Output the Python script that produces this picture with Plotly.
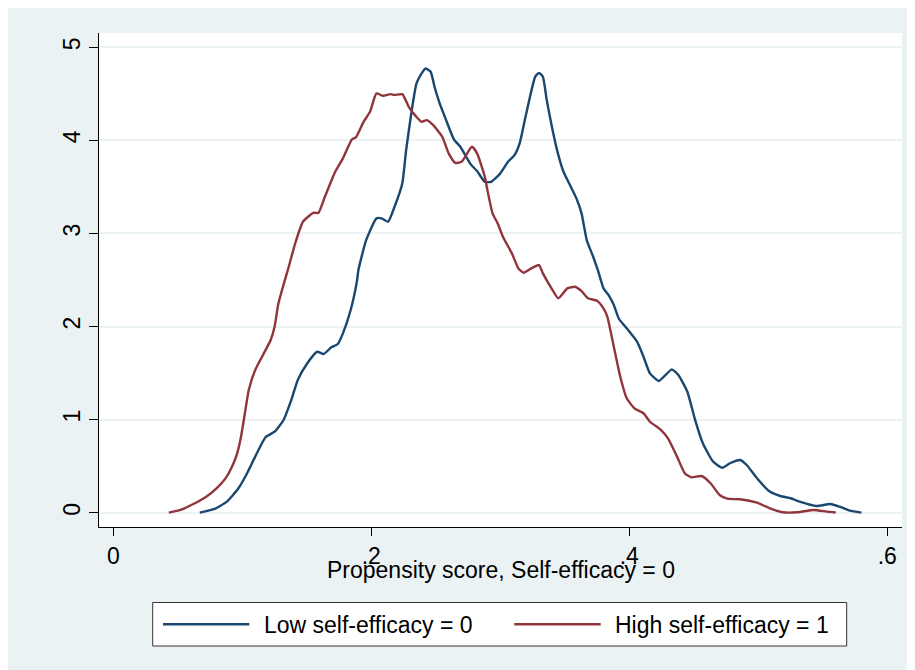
import plotly.graph_objects as go

# ---- data ----
series_names = ["Low self-efficacy = 0", "High self-efficacy = 1"]
x_title = "Propensity score, Self-efficacy = 0"
x_ticks = [0, 0.2, 0.4, 0.6]
x_tick_labels = ["0", ".2", ".4", ".6"]
y_ticks = [0, 1, 2, 3, 4, 5]
y_tick_labels = ["0", "1", "2", "3", "4", "5"]

low_x = [0.067, 0.078, 0.088, 0.097, 0.103, 0.110, 0.118, 0.125, 0.132, 0.138,
         0.143, 0.150, 0.158, 0.163, 0.169, 0.174, 0.178, 0.184, 0.189, 0.190,
         0.196, 0.204, 0.208, 0.213, 0.218, 0.224, 0.227, 0.231, 0.235, 0.239,
         0.242, 0.246, 0.249, 0.253, 0.258, 0.264, 0.269, 0.277, 0.282, 0.288,
         0.293, 0.300, 0.306, 0.311, 0.315, 0.319, 0.323, 0.327, 0.330, 0.333,
         0.336, 0.340, 0.344, 0.349, 0.354, 0.359, 0.363, 0.367, 0.372, 0.376,
         0.380, 0.384, 0.388, 0.392, 0.397, 0.406, 0.411, 0.416, 0.423, 0.428,
         0.433, 0.438, 0.445, 0.451, 0.457, 0.465, 0.472, 0.478, 0.486, 0.491,
         0.499, 0.508, 0.517, 0.525, 0.532, 0.545, 0.556, 0.563, 0.571, 0.580]
low_y = [0.000, 0.037, 0.118, 0.262, 0.405, 0.602, 0.810, 0.870, 0.996, 1.211,
         1.425, 1.597, 1.729, 1.705, 1.777, 1.812, 1.927, 2.177, 2.499, 2.607,
         2.929, 3.162, 3.162, 3.126, 3.287, 3.538, 3.896, 4.290, 4.612, 4.720,
         4.773, 4.737, 4.576, 4.397, 4.218, 4.011, 3.931, 3.745, 3.670, 3.555,
         3.555, 3.646, 3.770, 3.842, 3.968, 4.218, 4.468, 4.683, 4.726, 4.683,
         4.433, 4.146, 3.896, 3.663, 3.520, 3.377, 3.216, 2.929, 2.750, 2.589,
         2.410, 2.338, 2.231, 2.081, 1.998, 1.837, 1.676, 1.497, 1.415, 1.479,
         1.540, 1.479, 1.300, 0.996, 0.745, 0.548, 0.483, 0.531, 0.566, 0.512,
         0.369, 0.236, 0.179, 0.155, 0.118, 0.072, 0.093, 0.064, 0.021, 0.000]

high_x = [0.043, 0.052, 0.062, 0.072, 0.080, 0.087, 0.092, 0.096, 0.099, 0.102,
          0.105, 0.110, 0.116, 0.122, 0.125, 0.128, 0.133, 0.136, 0.141, 0.147,
          0.155, 0.159, 0.164, 0.172, 0.178, 0.185, 0.188, 0.194, 0.199, 0.204,
          0.209, 0.215, 0.218, 0.224, 0.229, 0.235, 0.239, 0.243, 0.248, 0.255,
          0.260, 0.265, 0.270, 0.278, 0.282, 0.288, 0.290, 0.294, 0.298, 0.302,
          0.309, 0.314, 0.318, 0.324, 0.330, 0.333, 0.339, 0.345, 0.352, 0.358,
          0.363, 0.368, 0.375, 0.380, 0.383, 0.388, 0.393, 0.398, 0.404, 0.411,
          0.416, 0.424, 0.430, 0.437, 0.443, 0.448, 0.456, 0.463, 0.470, 0.476,
          0.486, 0.499, 0.509, 0.519, 0.530, 0.543, 0.553, 0.560]
high_y = [0.000, 0.029, 0.093, 0.172, 0.262, 0.369, 0.494, 0.638, 0.816, 1.068,
          1.318, 1.533, 1.694, 1.855, 1.998, 2.249, 2.499, 2.642, 2.894, 3.126,
          3.222, 3.222, 3.394, 3.663, 3.807, 4.011, 4.032, 4.200, 4.307, 4.505,
          4.479, 4.497, 4.487, 4.497, 4.361, 4.253, 4.200, 4.218, 4.164, 4.039,
          3.860, 3.759, 3.770, 3.931, 3.860, 3.609, 3.466, 3.216, 3.108, 2.965,
          2.786, 2.625, 2.578, 2.625, 2.661, 2.571, 2.427, 2.303, 2.410, 2.427,
          2.380, 2.303, 2.277, 2.195, 2.105, 1.783, 1.461, 1.229, 1.121, 1.068,
          0.977, 0.896, 0.799, 0.602, 0.424, 0.380, 0.394, 0.316, 0.190, 0.150,
          0.144, 0.107, 0.047, 0.005, 0.004, 0.029, 0.011, 0.002]

# ---- style ----
BLUE = "#1A476F"
RED = "#90353B"
BG = "#EAF2F3"
FONT = "Liberation Sans, Arial, sans-serif"
FS = 23

# the page body adds an 8px offset; compensate so screen positions match
OFF = 8
W, H = 915 - OFF, 670 - OFF
PLOT_L, PLOT_R, PLOT_T, PLOT_B = 99, 902, 33, 527   # screen pixels
L = PLOT_L - OFF
T = PLOT_T - OFF
PW = PLOT_R - PLOT_L
PH = PLOT_B - PLOT_T
R = W - L - PW
B = H - T - PH


def px_x(p):
    return (p - PLOT_L) / PW


def px_y(p):
    return (PLOT_B - p) / PH


fig = go.Figure()
fig.add_trace(go.Scatter(x=low_x, y=low_y, mode="lines", name=series_names[0],
                         line=dict(color=BLUE, width=2.4, shape="spline", smoothing=0.5),
                         showlegend=False))
fig.add_trace(go.Scatter(x=high_x, y=high_y, mode="lines", name=series_names[1],
                         line=dict(color=RED, width=2.4, shape="spline", smoothing=0.5),
                         showlegend=False))

shapes = [
    # legend box
    dict(type="rect", xref="paper", yref="paper", x0=px_x(152.7), x1=px_x(846.7),
         y0=px_y(646), y1=px_y(602.5), fillcolor="white",
         line=dict(color="#333333", width=1), layer="above"),
    dict(type="line", xref="paper", yref="paper", x0=px_x(163), x1=px_x(249.3),
         y0=px_y(624.3), y1=px_y(624.3), line=dict(color=BLUE, width=2.4)),
    dict(type="line", xref="paper", yref="paper", x0=px_x(514.3), x1=px_x(600.7),
         y0=px_y(624.3), y1=px_y(624.3), line=dict(color=RED, width=2.4)),
]

annotations = [
    dict(text=x_title, xref="paper", yref="paper", x=0.5, y=px_y(570),
         xanchor="center", yanchor="middle", showarrow=False,
         font=dict(family=FONT, size=FS, color="black")),
    dict(text=series_names[0], xref="paper", yref="paper", x=px_x(262), y=px_y(624.5),
         xanchor="left", yanchor="middle", showarrow=False,
         font=dict(family=FONT, size=FS, color="black")),
    dict(text=series_names[1], xref="paper", yref="paper", x=px_x(613), y=px_y(624.5),
         xanchor="left", yanchor="middle", showarrow=False,
         font=dict(family=FONT, size=FS, color="black")),
]

fig.update_layout(
    width=W, height=H,
    margin=dict(l=L, r=R, t=T, b=B, pad=0),
    paper_bgcolor=BG,
    plot_bgcolor="white",
    font=dict(family=FONT, size=FS, color="black"),
    shapes=shapes,
    annotations=annotations,
    showlegend=False,
    xaxis=dict(range=[-0.0111, 0.6114], tickvals=x_ticks, ticktext=x_tick_labels,
               showgrid=False, zeroline=False, showline=True, linecolor="black",
               linewidth=1, ticks="outside", ticklen=8, tickcolor="black", tickwidth=1,
               tickfont=dict(family=FONT, size=FS, color="black")),
    yaxis=dict(range=[-0.154, 5.154], tickvals=y_ticks, ticktext=y_tick_labels,
               showgrid=True, gridcolor=BG, gridwidth=1.5, zeroline=False,
               showline=True, linecolor="black", linewidth=1, ticks="outside",
               ticklen=9, tickcolor="black", tickwidth=1, tickangle=-90,
               tickfont=dict(family=FONT, size=FS, color="black")),
)

fig.write_html("out.html")
